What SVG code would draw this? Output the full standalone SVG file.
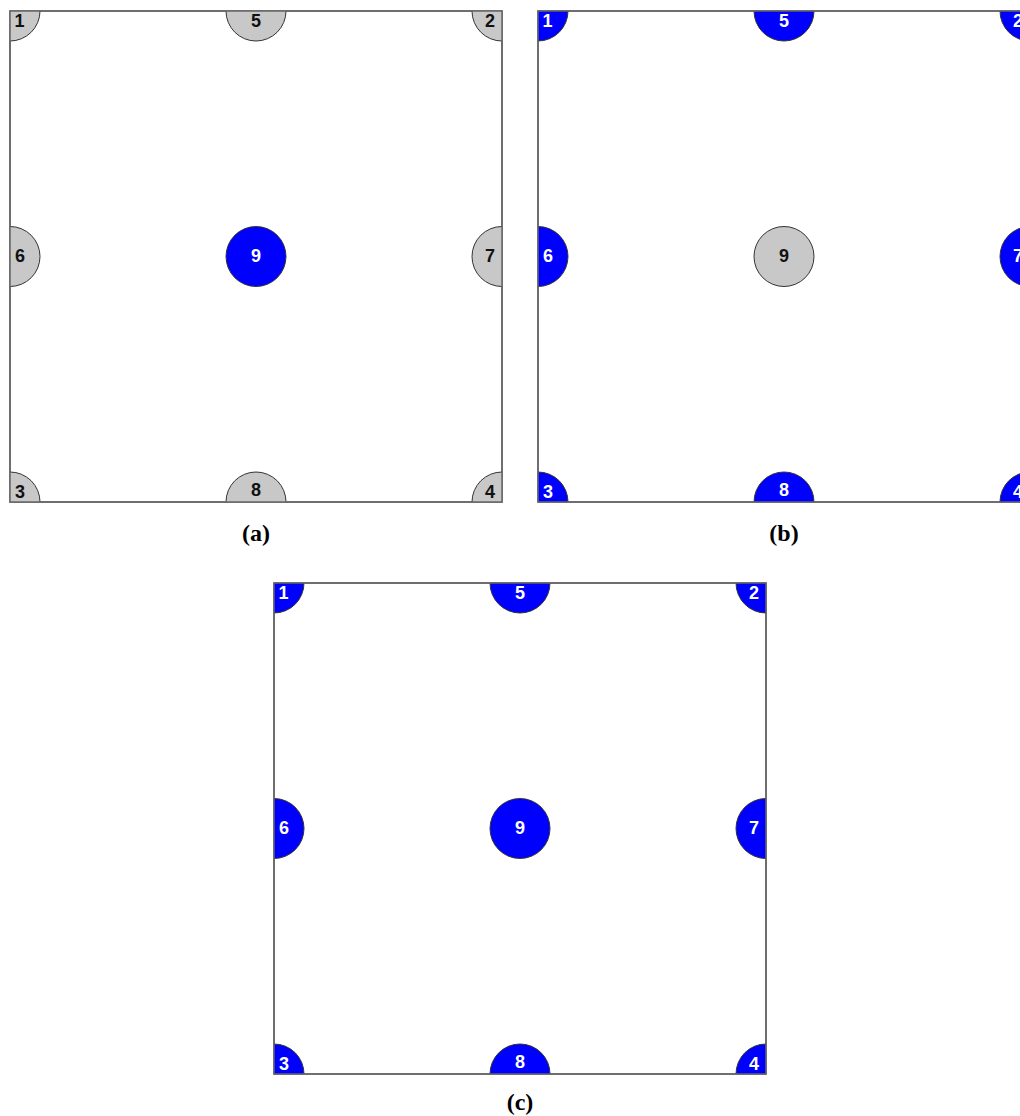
<svg xmlns="http://www.w3.org/2000/svg" width="1020" height="1116" viewBox="0 0 1020 1116">
<style>
.frame{fill:#fff;stroke:#666;stroke-width:1.5}
.g{fill:#c8c8c8;stroke:#333;stroke-width:1}
.b{fill:#0000ff;stroke:#333;stroke-width:1}
.tg{font-family:"Liberation Sans",Arial,sans-serif;font-weight:bold;font-size:18px;fill:#111;text-anchor:middle;dominant-baseline:central}
.tb{font-family:"Liberation Sans",Arial,sans-serif;font-weight:bold;font-size:18px;fill:#fff;text-anchor:middle;dominant-baseline:central}
.cap{font-family:"Liberation Serif","Times New Roman",serif;font-weight:bold;font-size:24px;fill:#000;text-anchor:middle}
</style>
<defs>
<clipPath id="ca"><rect x="10" y="11" width="492" height="491"/></clipPath>
<clipPath id="cb"><rect x="538" y="11" width="492" height="491"/></clipPath>
<clipPath id="cc"><rect x="274" y="583" width="492" height="491"/></clipPath>
</defs>
<rect x="0" y="0" width="1020" height="1116" fill="#fff"/>

<g id="panel-a">
<rect class="frame" x="10" y="11" width="492" height="491"/>
<g clip-path="url(#ca)">
<g id="a-n1"><circle class="g" cx="10" cy="11" r="30"/></g>
<g id="a-n2"><circle class="g" cx="502" cy="11" r="30"/></g>
<g id="a-n3"><circle class="g" cx="10" cy="502" r="30"/></g>
<g id="a-n4"><circle class="g" cx="502" cy="502" r="30"/></g>
<g id="a-n5"><circle class="g" cx="256" cy="11" r="30"/></g>
<g id="a-n6"><circle class="g" cx="10" cy="256.5" r="30"/></g>
<g id="a-n7"><circle class="g" cx="502" cy="256.5" r="30"/></g>
<g id="a-n8"><circle class="g" cx="256" cy="502" r="30"/></g>
</g>
<rect x="10" y="11" width="492" height="491" fill="none" stroke="#666" stroke-width="1.5"/>
<g id="a-n9"><circle class="b" cx="256" cy="256.5" r="30"/></g>
<text class="tg" x="19.5" y="21">1</text>
<text class="tg" x="490" y="21">2</text>
<text class="tg" x="20" y="492">3</text>
<text class="tg" x="490" y="492">4</text>
<text class="tg" x="256" y="21">5</text>
<text class="tg" x="20" y="256">6</text>
<text class="tg" x="490" y="256">7</text>
<text class="tg" x="256" y="490">8</text>
<text class="tb" x="256" y="256">9</text>
<text class="cap" x="256" y="541">(a)</text>
</g>

<g id="panel-b">
<rect class="frame" x="538" y="11" width="492" height="491"/>
<g clip-path="url(#cb)">
<g id="b-n1"><circle class="b" cx="538" cy="11" r="30"/></g>
<g id="b-n2"><circle class="b" cx="1030" cy="11" r="30"/></g>
<g id="b-n3"><circle class="b" cx="538" cy="502" r="30"/></g>
<g id="b-n4"><circle class="b" cx="1030" cy="502" r="30"/></g>
<g id="b-n5"><circle class="b" cx="784" cy="11" r="30"/></g>
<g id="b-n6"><circle class="b" cx="538" cy="256.5" r="30"/></g>
<g id="b-n7"><circle class="b" cx="1030" cy="256.5" r="30"/></g>
<g id="b-n8"><circle class="b" cx="784" cy="502" r="30"/></g>
</g>
<rect x="538" y="11" width="492" height="491" fill="none" stroke="#666" stroke-width="1.5"/>
<g id="b-n9"><circle class="g" cx="784" cy="256.5" r="30"/></g>
<text class="tb" x="547.5" y="21">1</text>
<text class="tb" x="1018" y="21">2</text>
<text class="tb" x="548" y="492">3</text>
<text class="tb" x="1018" y="492">4</text>
<text class="tb" x="784" y="21">5</text>
<text class="tb" x="548" y="256">6</text>
<text class="tb" x="1018" y="256">7</text>
<text class="tb" x="784" y="490">8</text>
<text class="tg" x="784" y="256">9</text>
<text class="cap" x="784" y="541">(b)</text>
</g>

<g id="panel-c">
<rect class="frame" x="274" y="583" width="492" height="491"/>
<g clip-path="url(#cc)">
<g id="c-n1"><circle class="b" cx="274" cy="583" r="30"/></g>
<g id="c-n2"><circle class="b" cx="766" cy="583" r="30"/></g>
<g id="c-n3"><circle class="b" cx="274" cy="1074" r="30"/></g>
<g id="c-n4"><circle class="b" cx="766" cy="1074" r="30"/></g>
<g id="c-n5"><circle class="b" cx="520" cy="583" r="30"/></g>
<g id="c-n6"><circle class="b" cx="274" cy="828.5" r="30"/></g>
<g id="c-n7"><circle class="b" cx="766" cy="828.5" r="30"/></g>
<g id="c-n8"><circle class="b" cx="520" cy="1074" r="30"/></g>
</g>
<rect x="274" y="583" width="492" height="491" fill="none" stroke="#666" stroke-width="1.5"/>
<g id="c-n9"><circle class="b" cx="520" cy="828.5" r="30"/></g>
<text class="tb" x="283.5" y="593">1</text>
<text class="tb" x="754" y="593">2</text>
<text class="tb" x="284" y="1064">3</text>
<text class="tb" x="754" y="1064">4</text>
<text class="tb" x="520" y="593">5</text>
<text class="tb" x="284" y="828">6</text>
<text class="tb" x="754" y="828">7</text>
<text class="tb" x="520" y="1062">8</text>
<text class="tb" x="520" y="828">9</text>
<text class="cap" x="520" y="1110">(c)</text>
</g>
</svg>
